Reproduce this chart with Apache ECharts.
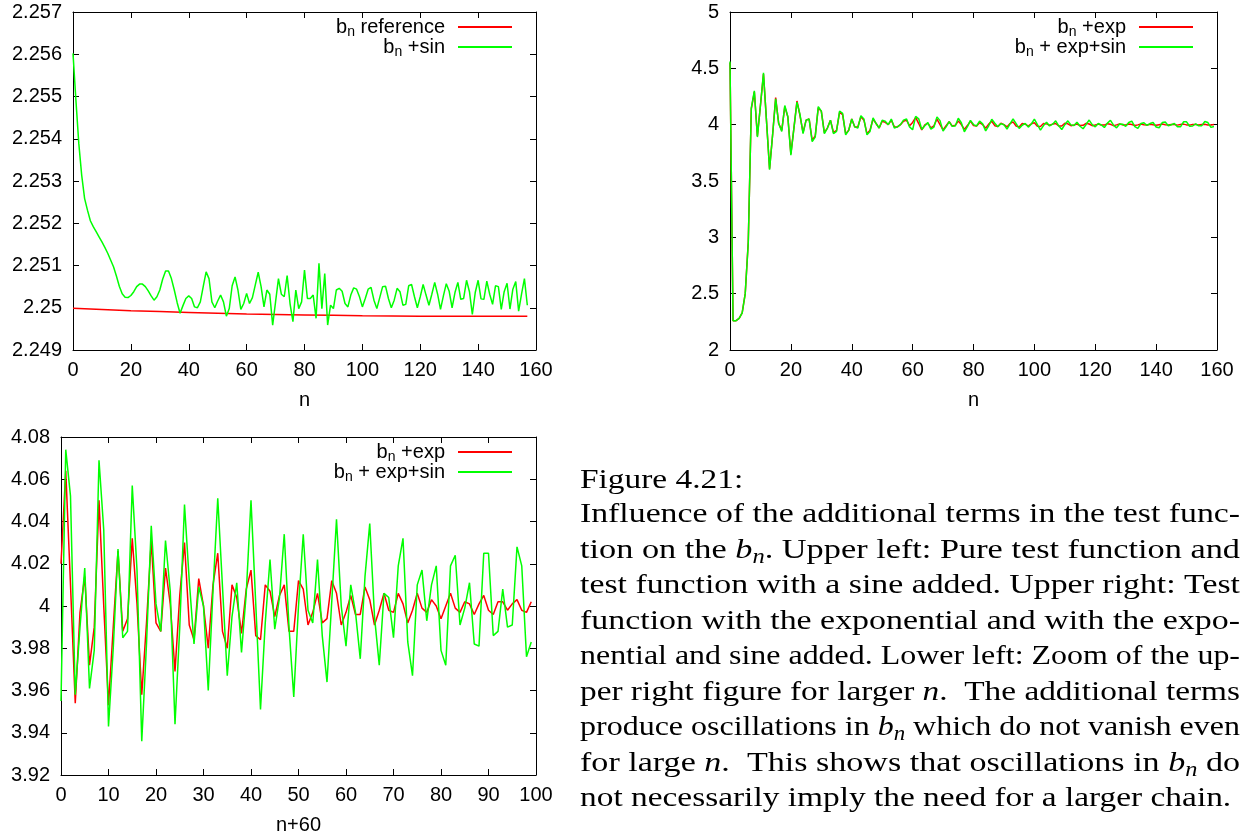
<!DOCTYPE html>
<html><head><meta charset="utf-8">
<script src="https://cdn.jsdelivr.net/npm/echarts/dist/echarts.min.js"></script>
<style>html,body{margin:0;padding:0;background:#fff}#c{width:1260px;height:836px}</style>
</head><body><div id="c"></div>
<script>
// ---------- DATA ----------
// Upper left: b_n reference (sampled n) and b_n +sin (n = 0..157)
const ulRedN = [0,10,20,30,40,50,60,70,80,90,100,110,120,130,140,150,157];
const ulRedV = [2.24999,2.24996,2.24993,2.24991,2.24989,2.24987,2.24985,2.24984,2.24983,2.24982,2.24981,2.249805,2.2498,2.2498,2.2498,2.2498,2.2498];
const ulGreenV = [
2.25602,2.25492,2.25389,2.25314,2.25259,2.25231,2.25206,2.25192,2.25180,2.25168,
2.25156,2.25143,2.25129,2.25113,2.25097,2.25075,2.25051,2.25033,2.25025,2.25024,
2.25029,2.25038,2.25050,2.25056,2.25056,2.25050,2.25040,2.25028,2.25018,2.25026,
2.25042,2.25068,2.25087,2.25087,2.25069,2.25042,2.25012,2.24987,2.25005,2.25022,
2.25028,2.25022,2.25002,2.25000,2.25014,2.25050,2.25085,2.25069,2.25014,2.25000,
2.25016,2.25030,2.25014,2.24980,2.24998,2.25052,2.25073,2.25042,2.24996,2.25010,
2.25034,2.25010,2.25024,2.25054,2.25084,2.25050,2.25002,2.25042,2.25032,2.24959,
2.25014,2.25069,2.25032,2.25026,2.25076,2.25010,2.24967,2.25042,2.24998,2.25014,
2.25089,2.25022,2.25022,2.25030,2.24975,2.25105,2.24998,2.25081,2.24959,2.25006,
2.24998,2.25042,2.25046,2.25039,2.25010,2.25002,2.25030,2.25047,2.25044,2.25026,
2.25002,2.25022,2.25044,2.25048,2.25018,2.24998,2.25024,2.25050,2.25051,2.25022,
2.25000,2.25018,2.25046,2.25038,2.25006,2.25008,2.25052,2.25055,2.25026,2.25000,
2.25026,2.25055,2.25030,2.25006,2.25032,2.25060,2.25032,2.24996,2.25028,2.25057,
2.25039,2.25000,2.25036,2.25060,2.25020,2.25022,2.25065,2.25038,2.24984,2.25036,
2.25065,2.25021,2.25020,2.25063,2.25032,2.25008,2.25052,2.25050,2.24996,2.25038,
2.25058,2.24997,2.25044,2.25062,2.24992,2.25032,2.25069,2.25006];

// Upper right, first 60 points (n = 0..59); n = 60..159 are the lower-left arrays
const urRedEarly = [
4.55,2.26,2.26,2.28,2.33,2.50,2.96,4.14,4.29,3.90,
4.17,4.45,4.03,3.61,3.91,4.24,4.01,3.95,4.16,4.07,
3.74,3.97,4.21,4.08,3.93,4.04,4.05,3.86,3.90,4.15,
4.12,3.93,3.97,4.04,3.93,3.95,4.11,4.09,3.92,3.95,
4.05,3.98,3.98,4.07,4.04,3.92,3.95,4.05,4.01,3.97,
4.03,4.02,4.00,4.04,3.98,3.98,4.00,4.03,4.04,3.99];
const urGreenEarly = [
4.56,2.26,2.26,2.28,2.33,2.50,2.95,4.15,4.30,3.89,
4.17,4.46,4.03,3.60,3.91,4.23,4.01,3.94,4.17,4.07,
3.73,3.97,4.20,4.09,3.92,4.04,4.05,3.85,3.89,4.16,
4.12,3.92,3.97,4.04,3.92,3.94,4.12,4.10,3.91,3.95,
4.05,3.98,3.97,4.08,4.05,3.91,3.94,4.06,4.01,3.97,
4.04,4.03,4.00,4.05,3.97,3.98,4.00,4.04,4.05,3.98];

// Lower left (x = n-60, 0..99)
const llRedV = [
4.020,4.064,4.010,3.954,3.997,4.014,3.972,3.990,4.050,4.000,
3.953,3.990,4.026,3.988,3.994,4.032,4.001,3.958,3.992,4.031,
3.992,3.988,4.018,4.001,3.969,4.005,4.030,3.991,3.984,4.013,
4.000,3.980,4.010,4.025,3.988,3.980,4.010,4.004,3.987,4.008,
4.017,3.986,3.984,4.010,4.007,3.995,4.005,4.010,3.988,3.988,
4.012,4.008,3.991,3.997,4.006,3.992,3.994,4.012,4.006,3.991,
3.997,4.005,3.996,3.996,4.009,4.003,3.991,3.998,4.006,3.998,
3.997,4.006,4.001,3.992,3.998,4.006,3.999,3.997,4.003,4.000,
3.994,4.000,4.006,3.999,3.997,4.002,4.001,3.996,4.001,4.005,
3.998,3.996,4.002,4.002,3.998,4.001,4.003,3.998,3.997,4.002];
const llGreenV = [
3.955,4.074,4.052,3.958,3.990,4.018,3.961,3.979,4.069,4.036,
3.943,3.980,4.027,3.985,3.988,4.057,4.017,3.936,3.982,4.038,
4.001,3.988,4.031,4.007,3.944,3.990,4.048,4.012,3.982,4.009,
4.000,3.960,4.007,4.051,4.009,3.967,3.995,4.011,3.978,4.006,
4.050,4.001,3.951,3.992,4.022,3.989,4.004,4.034,3.990,3.957,
4.000,4.034,3.998,3.992,4.022,3.986,3.964,4.002,4.041,4.000,
3.981,4.010,3.997,3.975,4.014,4.039,3.995,3.972,4.006,4.004,
3.985,4.019,4.032,3.983,3.967,4.010,4.017,3.993,4.010,4.019,
3.979,3.972,4.019,4.024,3.991,3.999,4.011,3.982,3.981,4.025,
4.025,3.986,3.988,4.008,3.990,3.991,4.028,4.019,3.976,3.983];

const legendLabels = {
  ulRef: 'b{s|n} reference', ulSin: 'b{s|n} +sin',
  urExp: 'b{s|n} +exp', urExpSin: 'b{s|n} + exp+sin',
  llExp: 'b{s|n} +exp', llExpSin: 'b{s|n} + exp+sin'
};

const captionLines = [
 'Figure 4.21:',
 'Influence of the additional terms in the test func-',
 'tion on the {i|b}{s|n}. Upper left: Pure test function and',
 'test function with a sine added. Upper right: Test',
 'function with the exponential and with the expo-',
 'nential and sine added. Lower left: Zoom of the up-',
 'per right figure for larger {i|n}.  The additional terms',
 'produce oscillations in {i|b}{s|n} which do not vanish even',
 'for large {i|n}.  This shows that oscillations in {i|b}{s|n} do',
 'not necessarily imply the need for a larger chain.'
];

// ---------- BUILD ----------
const ulGreen = ulGreenV.map((v, i) => [i, v]);
const ulRed = ulRedN.map((n, i) => [n, ulRedV[i]]);
const urRed = urRedEarly.concat(llRedV).map((v, i) => [i, v]);
const urGreen = urGreenEarly.concat(llGreenV).map((v, i) => [i, v]);
const llRed = llRedV.map((v, i) => [i, v]);
const llGreen = llGreenV.map((v, i) => [i, v]);

const SANS = 'Liberation Sans';
const SERIF = 'Liberation Serif';
const RED = '#ff0000', GREEN = '#00ff00';

function xAxes(gi, min, max, interval, name) {
  const base = {
    gridIndex: gi, type: 'value', min, max, interval,
    axisLine: { show: true, onZero: false, lineStyle: { color: '#000', width: 1 } },
    axisTick: { show: true, inside: true, length: 6, lineStyle: { color: '#000', width: 1 } },
    splitLine: { show: false }
  };
  return [
    Object.assign({}, base, {
      position: 'bottom', name, nameLocation: 'middle', nameGap: 40,
      nameTextStyle: { color: '#000', fontSize: 20, fontFamily: SANS },
      axisLabel: { color: '#000', fontSize: 20, fontFamily: SANS, margin: 10 }
    }),
    Object.assign({}, base, { position: 'top', axisLabel: { show: false } })
  ];
}
function yAxes(gi, min, max, interval, dec) {
  const base = {
    gridIndex: gi, type: 'value', min, max, interval,
    axisLine: { show: true, onZero: false, lineStyle: { color: '#000', width: 1 } },
    axisTick: { show: true, inside: true, length: 6, lineStyle: { color: '#000', width: 1 } },
    splitLine: { show: false }
  };
  return [
    Object.assign({}, base, {
      position: 'left',
      axisLabel: { color: '#000', fontSize: 20, fontFamily: SANS, margin: 11,
        formatter: v => String(+(+v).toFixed(dec)) }
    }),
    Object.assign({}, base, { position: 'right', axisLabel: { show: false } })
  ];
}
function line(name, data, color, xi, yi, z) {
  return { name, type: 'line', data, xAxisIndex: xi, yAxisIndex: yi, showSymbol: false,
    symbol: 'none', lineStyle: { color, width: 1.5 }, itemStyle: { color }, z, animation: false };
}
function legend(name, right, top) {
  return {
    data: [name], right, top, padding: 0, align: 'right', orient: 'horizontal',
    icon: 'rect', itemWidth: 54, itemHeight: 2, selectedMode: false,
    formatter: n => legendLabels[n],
    textStyle: { color: '#000', fontSize: 20, fontFamily: SANS, lineHeight: 24, padding: [0, 8, 0, 0],
      rich: { s: { fontSize: 14, fontFamily: SANS, color: '#000', lineHeight: 14, verticalAlign: 'bottom' } } }
  };
}

// caption: measure and justify
const mctx = document.createElement('canvas').getContext('2d');
const fontOf = { '': `28px "${SERIF}"`, i: `italic 28px "${SERIF}"`, s: `italic 20px "${SERIF}"` };
function measure(line) {
  const re = /\{(\w+)\|([^}]*)\}/g; let last = 0, m, w = 0;
  const add = (k, t) => { mctx.font = fontOf[k]; w += mctx.measureText(t).width; };
  while ((m = re.exec(line))) { if (m.index > last) add('', line.slice(last, m.index)); add(m[1], m[2]); last = re.lastIndex; }
  if (last < line.length) add('', line.slice(last));
  return w;
}
const TX = 580, TW = 660;
const lineY = [481, 515, 550.5, 586, 621.5, 657, 692.5, 728, 763.5, 799];
const scales = captionLines.map(l => TW / measure(l));
const justified = [false, true, true, true, true, true, true, true, true, false];
const jsc = scales.filter((s, i) => justified[i]);
const avgScale = jsc.reduce((a, b) => a + b, 0) / jsc.length;
const captionEls = captionLines.map((t, i) => ({
  type: 'text', x: TX, y: lineY[i], scaleX: justified[i] ? scales[i] : avgScale, silent: true,
  style: {
    text: t, fontSize: 28, fontFamily: SERIF, fill: '#000', align: 'left', verticalAlign: 'middle', lineHeight: 34,
    rich: {
      i: { fontSize: 28, fontFamily: SERIF, fontStyle: 'italic', fill: '#000', lineHeight: 34 },
      s: { fontSize: 20, fontFamily: SERIF, fontStyle: 'italic', fill: '#000', lineHeight: 20, verticalAlign: 'bottom' }
    }
  }
}));

const chart = echarts.init(document.getElementById('c'), null, { renderer: 'canvas' });
chart.setOption({
  animation: false,
  backgroundColor: '#fff',
  grid: [
    { left: 73, top: 12, width: 463, height: 338, containLabel: false, outerBoundsMode: 'none' },
    { left: 730, top: 12, width: 487, height: 338, containLabel: false, outerBoundsMode: 'none' },
    { left: 61, top: 437, width: 475, height: 338, containLabel: false, outerBoundsMode: 'none' }
  ],
  xAxis: [].concat(xAxes(0, 0, 160, 20, 'n'), xAxes(1, 0, 160, 20, 'n'), xAxes(2, 0, 100, 10, 'n+60')),
  yAxis: [].concat(yAxes(0, 2.249, 2.257, 0.001, 3), yAxes(1, 2, 5, 0.5, 1), yAxes(2, 3.92, 4.08, 0.02, 2)),
  legend: [
    legend('ulRef', 748, 15), legend('ulSin', 748, 35),
    legend('urExp', 67, 15), legend('urExpSin', 67, 35),
    legend('llExp', 748, 440), legend('llExpSin', 748, 460)
  ],
  series: [
    line('ulRef', ulRed, RED, 0, 0, 2),
    line('ulSin', ulGreen, GREEN, 0, 0, 3),
    line('urExp', urRed, RED, 2, 2, 2),
    line('urExpSin', urGreen, GREEN, 2, 2, 3),
    line('llExp', llRed, RED, 4, 4, 2),
    line('llExpSin', llGreen, GREEN, 4, 4, 3)
  ],
  graphic: { elements: captionEls }
});
</script>
</body></html>
